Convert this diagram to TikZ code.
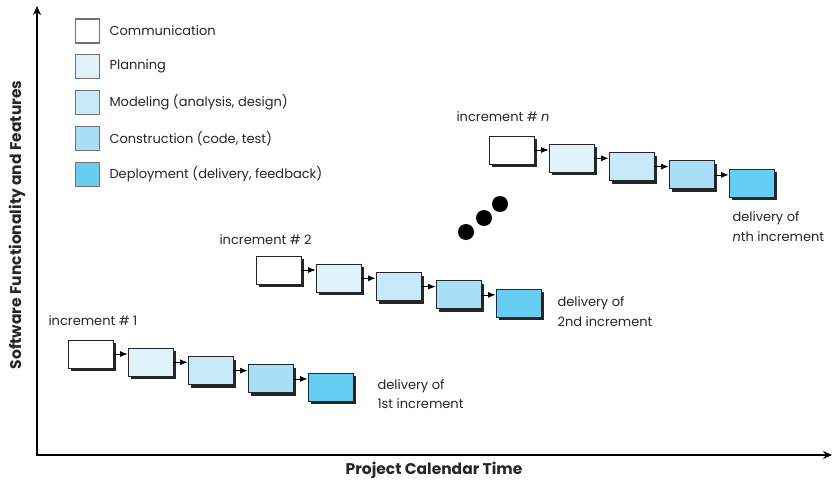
\documentclass[tikz,border=0pt]{standalone}
\usepackage{fontspec}
\setmainfont{Poppins}
\usetikzlibrary{shadows,arrows.meta}
\definecolor{comm}{HTML}{FFFFFF}
\definecolor{plan}{HTML}{E1F3FA}
\definecolor{model}{HTML}{C7E9F8}
\definecolor{constr}{HTML}{A8DEF6}
\definecolor{deploy}{HTML}{66CDF3}
\begin{document}
\begin{tikzpicture}
  [x=1pt,y=-1pt,
   every node/.style={font=\fontsize{13}{19.5}\selectfont,text=black!85},
   phase/.style={draw=black!85,line width=0.9pt,minimum width=45pt,minimum height=28pt,inner sep=0pt,
     drop shadow={shadow xshift=3pt,shadow yshift=-3pt,fill=black!85,opacity=1}},
   key/.style={draw=black!55,line width=1.2pt,minimum width=24pt,minimum height=24pt,inner sep=0pt},
   link/.style={-{Latex[length=7.5pt,width=6pt]},line width=0.8pt},
   axis/.style={line width=2.4pt,-{Stealth[length=9pt,width=8pt]}},
   bold/.style={font=\fontsize{15.5}{18}\selectfont\bfseries},
   dot/.style={circle,fill=black,minimum size=16pt,inner sep=0pt}]
  \useasboundingbox (0,0) rectangle (832,484);

  % legend
  \foreach \c/\t [count=\i from 0] in {comm/Communication,plan/Planning,
      model/{Modeling (analysis, design)},constr/{Construction (code, test)},
      deploy/{Deployment (delivery, feedback)}} {
    \node (key\i)[key,fill=\c] at (87.5,31+35.8*\i) {};
    \node (lab\i)[anchor=west] at (106,31+35.8*\i) {\t};
  }

  % axes
  \coordinate (org) at (37,455);
  \coordinate (ytop) at (37,6);
  \coordinate (xend) at (832,455);
  \draw[axis] (org) -- (ytop);
  \draw[axis] ([xshift=-1.2pt]org) -- (xend);
  \node (ylab)[rotate=90,bold] at (17,225) {Software Functionality and Features};
  \node (xlab)[bold] at (434,470) {Project Calendar Time};

  % increments
  \foreach \k/\x/\y in {1/90.5/354, 2/278.5/270, n/511.5/150} {
    \foreach \c [count=\j from 0] in {comm,plan,model,constr,deploy}
      \node (b\k\j)[phase,fill=\c] at (\x+60*\j,\y+8.3*\j) {};
    \foreach \from/\to in {0/1,1/2,2/3,3/4}
      \draw[link] (b\k\from.east) -- (b\k\from.east -| b\k\to.west);
  }

  \node (inc1)[anchor=west] at (45,321) {increment \# 1};
  \node (inc2)[anchor=west] at (216,240) {increment \# 2};
  \node (incn)[anchor=west] at (453,117) {increment \# \textit{n}};
  \node (del1)[anchor=west,align=left] at (374,394) {delivery of\\1st increment};
  \node (del2)[anchor=west,align=left] at (554,311.5) {delivery of\\2nd increment};
  \node (deln)[anchor=west,align=left] at (729,226.5) {delivery of\\\textit{n}th increment};

  \node (dot1)[dot] at (466,232) {};
  \node (dot2)[dot] at (484,218) {};
  \node (dot3)[dot] at (500,204) {};
\end{tikzpicture}
\end{document}
